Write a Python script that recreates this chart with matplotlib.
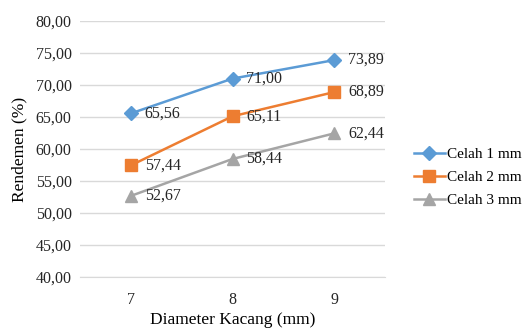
import matplotlib
matplotlib.use('Agg')
from matplotlib import pyplot as plt

plt.rcParams['font.family'] = ['Liberation Serif', 'DejaVu Serif']

diameters = ['7', '8', '9']
celah_1 = [65.56, 71.00, 73.89]
celah_2 = [57.44, 65.11, 68.89]
celah_3 = [52.67, 58.44, 62.44]
series_names = ['Celah 1 mm', 'Celah 2 mm', 'Celah 3 mm']
colors = ['#5B9BD5', '#ED7D31', '#A5A5A5']
markers = ['D', 's', '^']
marker_sizes = [7, 9, 9]


def fmt(v):
    return ('%.2f' % v).replace('.', ',')


fig = plt.figure(figsize=(5.29, 3.29), dpi=100)
ax = fig.add_axes([80 / 529, 1 - 277 / 329, 305 / 529, 256 / 329])

x = [i + 0.5 for i in range(len(diameters))]
for vals, name, c, m, ms in zip([celah_1, celah_2, celah_3], series_names, colors, markers, marker_sizes):
    ax.plot(x, vals, color=c, marker=m, markersize=ms, linewidth=1.8, label=name)
    for xi, v in zip(x, vals):
        ax.annotate(fmt(v), (xi, v), xytext=(10, 0), textcoords='offset points',
                    ha='left', va='center', fontsize=11.5, color='#262626')

ax.set_xlim(0, 3)
ax.set_ylim(40, 80)
ax.set_yticks(range(40, 81, 5))
ax.set_yticklabels([fmt(v) for v in range(40, 81, 5)])
ax.set_xticks(x)
ax.set_xticklabels(diameters)
ax.grid(axis='y', color='#D9D9D9', linewidth=1)
ax.set_axisbelow(True)
for s in ['top', 'right', 'left']:
    ax.spines[s].set_visible(False)
ax.spines['bottom'].set_color('#D9D9D9')
ax.tick_params(axis='y', length=0, labelsize=11.5, colors='#262626', pad=6)
ax.tick_params(axis='x', length=0, labelsize=11.5, colors='#262626', pad=11)
ax.set_ylabel('Rendemen (%)', fontsize=12.5, labelpad=6)
ax.set_xlabel('Diameter Kacang (mm)', fontsize=12.5, labelpad=3)

ax.legend(loc='center left', bbox_to_anchor=(1.05, 0.39), frameon=False,
          fontsize=11, handlelength=2.0, handletextpad=0.15, labelspacing=0.6)

fig.savefig('out.png', dpi=100)
